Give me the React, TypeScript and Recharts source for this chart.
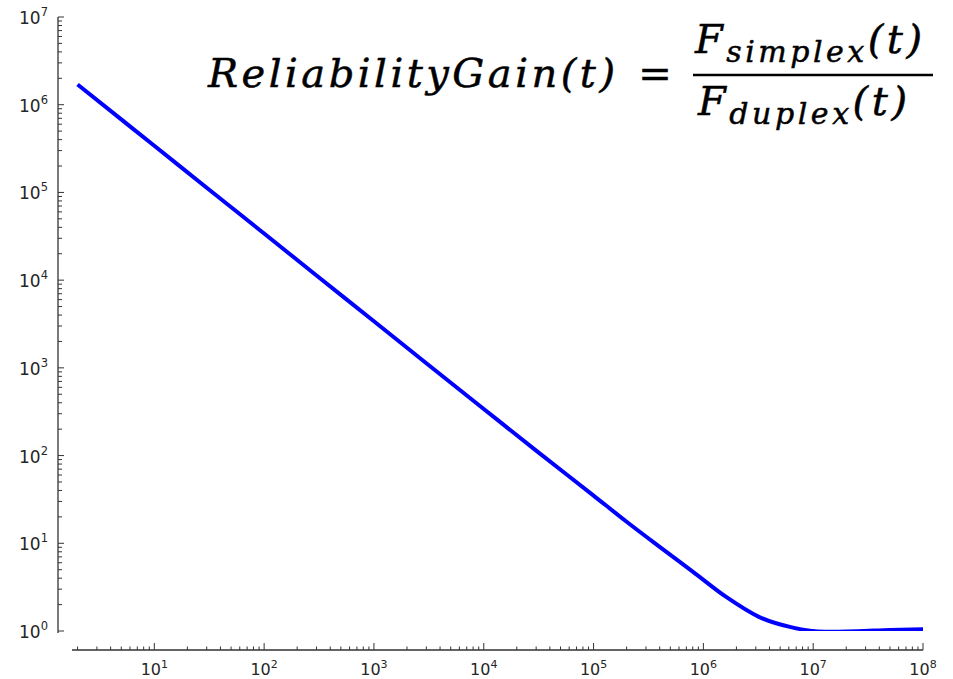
import { Line, LineChart, XAxis, YAxis } from "recharts";

// time t (log scale) and reliability gain
const times = [
  2, 5, 10, 30, 100, 300, 1e3, 3e3, 1e4, 3e4, 1e5, 2e5, 4e5, 8e5, 1.6e6, 3.2e6,
  6.4e6, 1.28e7, 2.5e7, 5e7, 1e8,
];
const gain = [
  1.7e6, 6.8e5, 3.4e5, 1.13e5, 3.4e4, 1.13e4, 3400, 1130, 340, 114, 35, 17.6,
  9.1, 4.75, 2.46, 1.45, 1.1, 0.98, 0.995, 1.03, 1.05,
];

const xExponents = [0, 1, 2, 3, 4, 5, 6, 7, 8];
const yExponents = [0, 1, 2, 3, 4, 5, 6, 7];
const minorSteps = [2, 3, 4, 5, 6, 7, 8, 9];

const xDomain: [number, number] = [1.78, 1e8];
const yDomain: [number, number] = [1, 1e7];

const data = times.map((t, i) => ({ t, gain: gain[i] }));

function logTicks(exps: number[], lo: number, hi: number) {
  const out: number[] = [];
  exps.forEach((e) => {
    const base = Math.pow(10, e);
    if (base >= lo && base <= hi) out.push(base);
    if (e < exps[exps.length - 1]) {
      minorSteps.forEach((m) => {
        const v = m * base;
        if (v >= lo && v <= hi) out.push(v);
      });
    }
  });
  return out.sort((a, b) => a - b);
}

const xTicks = logTicks(xExponents, xDomain[0], xDomain[1]);
const yTicks = logTicks(yExponents, yDomain[0], yDomain[1]);

const axisColor = "#333333";
const labelColor = "#262626";

function isMajor(v: number) {
  const e = Math.round(Math.log10(v));
  return Math.abs(v - Math.pow(10, e)) < v * 1e-9 ? e : null;
}

function XTick(props: any) {
  const { x, y, payload } = props;
  const e = isMajor(payload.value);
  return (
    <g>
      <line x1={x} x2={x} y1={y} y2={y - (e !== null ? 7 : 3.5)} stroke={axisColor} strokeWidth={1} />
      {e !== null && (
        <text x={x} y={y + 25} textAnchor="middle" fill={labelColor} fontSize={16} fontFamily="DejaVu Sans">
          10
          <tspan dy={-7} fontSize={11}>
            {e}
          </tspan>
        </text>
      )}
    </g>
  );
}

function YTick(props: any) {
  const { x, y, payload } = props;
  const e = isMajor(payload.value);
  return (
    <g>
      <line x1={x} x2={x + (e !== null ? 6 : 4)} y1={y} y2={y} stroke={axisColor} strokeWidth={1} />
      {e !== null && (
        <text x={x - 10} y={y + 7} textAnchor="end" fill={labelColor} fontSize={17} fontFamily="DejaVu Sans">
          10
          <tspan dy={-8} fontSize={11.5}>
            {e}
          </tspan>
        </text>
      )}
    </g>
  );
}

function Equation() {
  const font = "DejaVu Serif";
  const ink = { fill: "#000", stroke: "#000", strokeWidth: 0.5 };
  return (
    <svg width={953} height={679} style={{ position: "absolute", left: 0, top: 0, pointerEvents: "none" }}>
      <text x={208} y={87} fontSize={40} fontStyle="italic" fontFamily={font} {...ink} textLength={407} lengthAdjust="spacing">
        ReliabilityGain(t)
      </text>
      <text x={655} y={87} fontSize={40} fontFamily={font} {...ink} textAnchor="middle">
        =
      </text>
      <line x1={693} x2={933} y1={75} y2={75} stroke="#000" strokeWidth={2.5} />
      <text x={695} y={53} fontSize={40} fontStyle="italic" fontFamily={font} {...ink} textLength={227} lengthAdjust="spacing">
        F
        <tspan fontSize={30} dy={9}>
          simplex
        </tspan>
        <tspan fontSize={40} dy={-9}>
          (t)
        </tspan>
      </text>
      <text x={698} y={115} fontSize={40} fontStyle="italic" fontFamily={font} {...ink} textLength={209} lengthAdjust="spacing">
        F
        <tspan fontSize={30} dy={9}>
          duplex
        </tspan>
        <tspan fontSize={40} dy={-9}>
          (t)
        </tspan>
      </text>
    </svg>
  );
}

export default function App() {
  return (
    <div style={{ position: "absolute", left: 0, top: 0, width: 953, height: 679, background: "#fff" }}>
      <LineChart width={953} height={679} data={data} margin={{ top: 17, right: 30, left: 0, bottom: 0 }}>
        <XAxis
          dataKey="t"
          type="number"
          scale="log"
          domain={xDomain}
          allowDataOverflow
          ticks={xTicks}
          interval={0}
          height={29}
          padding={{ left: 14, right: 0 }}
          tickSize={0}
          tickMargin={0}
          tickLine={false}
          tick={<XTick />}
          axisLine={{ stroke: axisColor, strokeWidth: 1.3, strokeDasharray: "0 14 2000" }}
        />
        <YAxis
          type="number"
          scale="log"
          domain={yDomain}
          allowDataOverflow
          ticks={yTicks}
          interval={0}
          width={58}
          padding={{ top: 0, bottom: 19 }}
          tickSize={0}
          tickMargin={0}
          tickLine={false}
          tick={<YTick />}
          axisLine={{ stroke: axisColor, strokeWidth: 1.3, strokeDasharray: "616 2000" }}
        />
        <Line
          type="monotone"
          dataKey="gain"
          stroke="#0000ff"
          strokeWidth={4}
          dot={false}
          isAnimationActive={false}
        />
      </LineChart>
      <Equation />
    </div>
  );
}
